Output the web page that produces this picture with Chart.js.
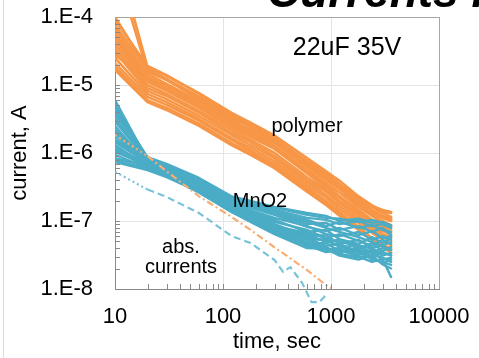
<!DOCTYPE html>
<html lang="en">
<head>
<meta charset="UTF-8" />
<title>Currents in 22uF 35V capacitors</title>
<script src="https://cdn.jsdelivr.net/npm/chart.js"></script>
<style>
  html, body { margin: 0; padding: 0; background: #fff; }
  #wrap { width: 479px; height: 358px; }
</style>
</head>
<body>
<div id="wrap"><canvas id="chart" width="479" height="358"></canvas></div>
<script>
// measurement times, sec
const times = [10, 20, 30, 60, 120, 180, 300, 600, 900, 1200, 1800, 2400, 3000, 3600];

// polymer parts, current in A
const polymer = [
  [1.0e-3, 1.84e-5, 1.36e-5, 7.6e-6, 3.9e-6, 2.8e-6, 1.8e-6, 8.4e-7, 5.4e-7, 3.9e-7, 2.3e-7, 1.7e-7, 1.36e-7, 1.31e-7],
  [6.0e-4, 1.56e-5, 1.19e-5, 6.7e-6, 3.5e-6, 2.5e-6, 1.6e-6, 7.6e-7, 5.1e-7, 3.5e-7, 2.1e-7, 1.6e-7, 1.31e-7, 1.15e-7],
  [1.0e-4, 1.72e-5, 1.23e-5, 6.7e-6, 3.4e-6, 2.4e-6, 1.56e-6, 6.9e-7, 4.4e-7, 3.16e-7, 1.9e-7, 1.4e-7, 1.15e-7, 1.04e-7],
  [9.0e-5, 1.9e-5, 1.4e-5, 7.4e-6, 3.75e-6, 2.7e-6, 1.66e-6, 7.4e-7, 4.6e-7, 3.3e-7, 2.0e-7, 1.45e-7, 1.19e-7, 1.08e-7],
  [7.6e-5, 1.66e-5, 1.19e-5, 6.2e-6, 3.3e-6, 2.4e-6, 1.5e-6, 6.7e-7, 4.3e-7, 3.0e-7, 1.84e-7, 1.36e-7, 1.11e-7, 1.0e-7],
  [6.7e-5, 1.45e-5, 1.04e-5, 5.8e-6, 3.1e-6, 2.1e-6, 1.4e-6, 6.2e-7, 4.0e-7, 2.9e-7, 1.72e-7, 1.27e-7, 1.0e-7, 8.7e-8],
  [5.8e-5, 1.31e-5, 9.7e-6, 5.4e-6, 2.8e-6, 2.0e-6, 1.27e-6, 5.6e-7, 3.6e-7, 2.6e-7, 1.6e-7, 1.19e-7, 9.4e-8, 8.2e-8],
  [5.1e-5, 1.19e-5, 8.7e-6, 4.9e-6, 2.6e-6, 1.84e-6, 1.19e-6, 5.3e-7, 3.4e-7, 2.3e-7, 1.45e-7, 1.04e-7, 8.4e-8, 7.6e-8],
  [4.6e-5, 1.11e-5, 8.2e-6, 4.6e-6, 2.4e-6, 1.72e-6, 1.15e-6, 5.0e-7, 3.1e-7, 2.2e-7, 1.36e-7, 1.0e-7, 7.9e-8, 6.9e-8],
  [4.0e-5, 1.0e-5, 7.4e-6, 4.15e-6, 2.2e-6, 1.56e-6, 1.0e-6, 4.4e-7, 2.9e-7, 1.97e-7, 1.27e-7, 9.0e-8, 7.1e-8, 6.4e-8],
  [3.5e-5, 9.0e-6, 6.9e-6, 3.9e-6, 2.0e-6, 1.45e-6, 9.0e-7, 4.0e-7, 2.7e-7, 1.84e-7, 1.15e-7, 8.2e-8, 6.4e-8, 5.8e-8],
  [3.1e-5, 8.2e-6, 6.2e-6, 3.5e-6, 1.84e-6, 1.31e-6, 8.4e-7, 3.75e-7, 2.4e-7, 1.66e-7, 1.04e-7, 7.4e-8, 5.8e-8, 5.1e-8],
  [2.76e-5, 1.23e-5, 9.0e-6, 5.3e-6, 2.9e-6, 2.2e-6, 1.45e-6, 7.1e-7, 4.75e-7, 3.4e-7, 2.2e-7, 1.66e-7, 1.45e-7, 1.36e-7],
  [2.5e-5, 7.4e-6, 5.6e-6, 3.16e-6, 1.66e-6, 1.19e-6, 7.6e-7, 3.4e-7, 2.2e-7, 1.5e-7, 9.4e-8, 6.7e-8, 5.3e-8, 4.4e-8],
  [2.1e-5, 6.7e-6, 5.1e-6, 3.0e-6, 1.56e-6, 1.08e-6, 6.9e-7, 3.1e-7, 1.97e-7, 1.36e-7, 8.2e-8, 5.6e-8, 4.4e-8, 3.75e-8],
  [1.84e-5, 6.0e-6, 4.6e-6, 2.7e-6, 1.4e-6, 1.0e-6, 6.4e-7, 2.9e-7, 1.84e-7, 1.27e-7, 7.6e-8, 5.3e-8, 4.15e-8, 3.4e-8],
  [1.66e-5, 5.6e-6, 4.3e-6, 2.5e-6, 1.31e-6, 9.4e-7, 6.0e-7, 2.7e-7, 1.72e-7, 1.19e-7, 7.4e-8, 5.4e-8, 4.4e-8, 4.0e-8]
];

// MnO2 parts, current in A
const mno2 = [
  [6.0e-6, 7.9e-7, 6.4e-7, 4.0e-7, 2.26e-7, 1.84e-7, 1.56e-7, 1.23e-7, 1.11e-7, 1.08e-7, 9.7e-8, 1.04e-7, 9.4e-8, 8.7e-8],
  [5.1e-6, 8.4e-7, 6.7e-7, 4.15e-7, 2.2e-7, 1.78e-7, 1.45e-7, 1.11e-7, 1.04e-7, 9.0e-8, 1.0e-7, 8.4e-8, 9.0e-8, 7.9e-8],
  [4.6e-6, 8.7e-7, 6.9e-7, 4.3e-7, 2.3e-7, 1.97e-7, 1.61e-7, 1.31e-7, 1.19e-7, 1.0e-7, 1.08e-7, 9.4e-8, 9.7e-8, 8.4e-8],
  [4.3e-6, 7.6e-7, 6.0e-7, 3.75e-7, 2.1e-7, 1.72e-7, 1.36e-7, 1.04e-7, 8.4e-8, 9.7e-8, 7.9e-8, 8.7e-8, 7.4e-8, 6.9e-8],
  [3.75e-6, 8.2e-7, 6.2e-7, 3.9e-7, 2.0e-7, 1.61e-7, 1.27e-7, 9.0e-8, 9.4e-8, 7.4e-8, 8.4e-8, 6.9e-8, 7.9e-8, 6.2e-8],
  [3.3e-6, 7.4e-7, 5.8e-7, 3.5e-7, 1.97e-7, 1.56e-7, 1.23e-7, 8.2e-8, 7.1e-8, 7.9e-8, 6.2e-8, 7.1e-8, 5.6e-8, 6.0e-8],
  [2.9e-6, 7.9e-7, 6.0e-7, 3.6e-7, 1.91e-7, 1.45e-7, 1.11e-7, 8.4e-8, 6.4e-8, 6.0e-8, 6.9e-8, 5.3e-8, 6.0e-8, 5.3e-8],
  [2.5e-6, 7.1e-7, 5.6e-7, 3.4e-7, 1.84e-7, 1.4e-7, 1.04e-7, 6.9e-8, 7.4e-8, 5.4e-8, 4.6e-8, 5.8e-8, 4.75e-8, 5.6e-8],
  [2.2e-6, 7.6e-7, 5.8e-7, 3.3e-7, 1.78e-7, 1.36e-7, 9.7e-8, 7.4e-8, 5.6e-8, 6.4e-8, 5.1e-8, 4.3e-8, 5.3e-8, 4.6e-8],
  [2.0e-6, 6.9e-7, 5.4e-7, 3.16e-7, 1.72e-7, 1.27e-7, 9.0e-8, 6.0e-8, 6.2e-8, 4.6e-8, 5.3e-8, 4.0e-8, 4.4e-8, 4.9e-8],
  [1.78e-6, 7.4e-7, 5.6e-7, 3.3e-7, 1.66e-7, 1.23e-7, 8.4e-8, 6.4e-8, 4.9e-8, 5.3e-8, 3.9e-8, 4.75e-8, 3.6e-8, 4.15e-8],
  [1.6e-6, 6.7e-7, 5.3e-7, 3.1e-7, 1.61e-7, 1.19e-7, 8.7e-8, 5.3e-8, 5.4e-8, 4.15e-8, 4.3e-8, 3.4e-8, 4.0e-8, 3.75e-8],
  [1.56e-6, 7.9e-7, 6.2e-7, 3.9e-7, 2.1e-7, 1.66e-7, 1.31e-7, 9.7e-8, 7.9e-8, 6.9e-8, 5.8e-8, 4.9e-8, 4.3e-8, 3.75e-8],
  [1.45e-6, 7.1e-7, 5.4e-7, 3.0e-7, 1.56e-7, 1.15e-7, 7.9e-8, 5.6e-8, 4.3e-8, 4.6e-8, 3.5e-8, 3.75e-8, 3.1e-8, 3.4e-8],
  [1.31e-6, 6.4e-7, 5.1e-7, 2.9e-7, 1.5e-7, 1.11e-7, 7.6e-8, 4.6e-8, 4.75e-8, 3.6e-8, 4.0e-8, 3.0e-8, 3.5e-8, 3.1e-8],
  [1.19e-6, 6.9e-7, 5.3e-7, 3.0e-7, 1.45e-7, 1.08e-7, 7.1e-8, 4.9e-8, 3.75e-8, 4.0e-8, 3.16e-8, 3.5e-8, 2.7e-8, 2.9e-8],
  [1.11e-6, 6.2e-7, 4.9e-7, 2.76e-7, 1.45e-7, 1.04e-7, 6.9e-8, 4.3e-8, 4.15e-8, 3.3e-8, 2.9e-8, 3.16e-8, 2.9e-8, 2.5e-8],
  [1.04e-6, 6.7e-7, 5.1e-7, 2.9e-7, 1.4e-7, 1.0e-7, 7.4e-8, 5.3e-8, 4.0e-8, 3.5e-8, 3.75e-8, 2.7e-8, 2.5e-8, 2.26e-8],
  [9.4e-7, 6.0e-7, 4.75e-7, 2.7e-7, 1.36e-7, 1.0e-7, 6.7e-8, 4.4e-8, 3.5e-8, 3.75e-8, 3.0e-8, 2.5e-8, 2.76e-8, 1.5e-8],
  [8.4e-7, 6.4e-7, 4.9e-7, 2.76e-7, 1.4e-7, 1.08e-7, 8.2e-8, 5.8e-8, 5.1e-8, 4.3e-8, 3.4e-8, 2.9e-8, 2.4e-8, 2.7e-8],
  [7.9e-7, 5.8e-7, 4.6e-7, 2.6e-7, 1.36e-7, 9.7e-8, 6.4e-8, 4.0e-8, 3.9e-8, 3.1e-8, 2.7e-8, 3.1e-8, 2.3e-8, 2.0e-8],
  [7.4e-7, 5.6e-7, 4.4e-7, 2.7e-7, 1.45e-7, 1.11e-7, 8.4e-8, 6.7e-8, 5.6e-8, 4.9e-8, 4.4e-8, 3.9e-8, 3.4e-8, 3.16e-8]
];

// absorption currents
const absPolymerTimes = [10, 20, 30, 60, 120, 180, 300, 600, 900, 1000];
const absPolymer = [1.84e-6, 9.0e-7, 5.4e-7, 2.3e-7, 1.15e-7, 7.4e-8, 4.1e-8, 1.9e-8, 1.14e-8, 1.03e-8];
const absMnO2Times = [10, 20, 30, 60, 120, 180, 300, 360, 420, 540, 660, 780, 900];
const absMnO2 = [5.3e-7, 2.9e-7, 2.26e-7, 1.31e-7, 6.0e-8, 4.75e-8, 2.67e-8, 1.78e-8, 2.1e-8, 1.23e-8, 6.4e-9, 6.4e-9, 8.2e-9];

const xTicks = [10, 100, 1000, 10000];
const yTicks = [1e-8, 1e-7, 1e-6, 1e-5, 1e-4];

const ORANGE = '#F79646';
const TEAL = '#4BACC6';
const FONT = "'Liberation Sans', Arial, sans-serif";

function pts(xs, ys) {
  return ys.map((y, i) => ({ x: xs[i], y: y }));
}

const noClipBottom = { left: 0, top: 0, right: false, bottom: false };
const datasets = [];
polymer.forEach(v => datasets.push({
  data: pts(times, v), borderColor: ORANGE, borderWidth: 2.6, order: 3, clip: noClipBottom
}));
mno2.forEach(v => datasets.push({
  data: pts(times, v), borderColor: TEAL, borderWidth: 2.4, order: 2, clip: noClipBottom
}));
// first interval dotted, then dashed
const firstDotted = { borderDash: c => c.p0DataIndex === 0 ? [2, 3] : undefined };
datasets.push({
  data: pts(absPolymerTimes, absPolymer), borderColor: '#F8AD74', borderWidth: 2.2,
  borderDash: [7, 3, 2, 3], borderCapStyle: 'butt', segment: firstDotted, order: 1, clip: noClipBottom
});
datasets.push({
  data: pts(absMnO2Times, absMnO2), borderColor: '#79C3D8', borderWidth: 2.2,
  borderDash: [7, 4], borderCapStyle: 'butt', segment: firstDotted, order: 1, clip: noClipBottom
});

function gridColor(ctx, lo, hi) {
  const v = ctx.tick.value;
  if (v === lo) return 'rgba(0,0,0,0)';
  if (v === hi) return '#a6a6a6';
  return '#e4e4e4';
}

const decor = {
  id: 'decor',
  beforeDraw(chart) {
    const ctx = chart.ctx;
    ctx.save();
    ctx.fillStyle = '#fff';
    ctx.fillRect(0, 0, chart.width, chart.height);
    ctx.strokeStyle = '#dcdcdc';
    ctx.lineWidth = 1;
    ctx.beginPath();
    ctx.moveTo(3.5, 0);
    ctx.lineTo(3.5, chart.height);
    ctx.stroke();
    ctx.restore();
  },
  afterDatasetsDraw(chart) {
    const ctx = chart.ctx;
    ctx.save();
    ctx.fillStyle = '#000';
    ctx.textAlign = 'center';
    ctx.textBaseline = 'alphabetic';
    ctx.font = '25px ' + FONT;
    ctx.fillText('22uF 35V', 347, 55);
    ctx.font = '20px ' + FONT;
    ctx.fillText('polymer', 307, 132);
    ctx.fillText('MnO2', 260, 207);
    ctx.fillText('abs.', 181, 253);
    ctx.fillText('currents', 181, 273);
    ctx.restore();
  },
  afterDraw(chart) {
    const { ctx, chartArea: a, scales: { x, y } } = chart;
    ctx.save();
    // right edge of the plot frame
    ctx.strokeStyle = '#a6a6a6';
    ctx.lineWidth = 1;
    ctx.beginPath();
    ctx.moveTo(Math.round(a.right) + 0.5, a.top);
    ctx.lineTo(Math.round(a.right) + 0.5, a.bottom);
    ctx.stroke();
    // inward tick marks on the left and bottom axes
    ctx.strokeStyle = '#898989';
    ctx.beginPath();
    for (let e = -8; e < -4; e++) {
      for (let k = 1; k < 10; k++) {
        const py = Math.round(y.getPixelForValue(k * Math.pow(10, e))) + 0.5;
        ctx.moveTo(a.left, py);
        ctx.lineTo(a.left + 5, py);
      }
    }
    for (let e = 1; e < 4; e++) {
      for (let k = 1; k < 10; k++) {
        const px = Math.round(x.getPixelForValue(k * Math.pow(10, e))) + 0.5;
        ctx.moveTo(px, a.bottom);
        ctx.lineTo(px, a.bottom - 5);
      }
    }
    ctx.stroke();
    // clipped chart title
    ctx.fillStyle = '#000';
    ctx.textAlign = 'left';
    ctx.textBaseline = 'alphabetic';
    ctx.font = 'italic bold 46px ' + FONT;
    ctx.fillText('Currents in 22uF 35V capacitors', 267, 7);
    ctx.restore();
  }
};

new Chart(document.getElementById('chart'), {
  type: 'line',
  data: { datasets: datasets },
  plugins: [decor],
  options: {
    responsive: false,
    animation: false,
    devicePixelRatio: 1,
    layout: { padding: { left: 0, right: 40, top: 17, bottom: 0 } },
    elements: {
      point: { radius: 0 },
      line: { tension: 0, fill: false, borderCapStyle: 'round', borderJoinStyle: 'round' }
    },
    plugins: { legend: { display: false }, tooltip: { enabled: false } },
    scales: {
      x: {
        type: 'logarithmic',
        min: 10,
        max: 10000,
        afterBuildTicks: s => { s.ticks = xTicks.map(v => ({ value: v })); },
        afterFit: s => {
          s.height = 69;
          s.paddingLeft = 0; s.paddingRight = 0; s.paddingTop = 0; s.paddingBottom = 0;
        },
        grid: { drawTicks: false, lineWidth: 1, color: c => gridColor(c, 10, 10000) },
        border: { color: '#898989', width: 1 },
        ticks: {
          autoSkip: false, maxRotation: 0, padding: 15, color: '#000',
          font: { family: FONT, size: 22 },
          callback: v => String(v)
        },
        title: {
          display: true, text: 'time, sec', color: '#000',
          font: { family: FONT, size: 22 }, padding: { top: 0, bottom: 2.5 }
        }
      },
      y: {
        type: 'logarithmic',
        min: 1e-8,
        max: 1e-4,
        afterBuildTicks: s => { s.ticks = yTicks.map(v => ({ value: v })); },
        afterFit: s => {
          s.width = 115;
          s.paddingLeft = 0; s.paddingRight = 0; s.paddingTop = 0; s.paddingBottom = 0;
        },
        grid: { drawTicks: false, lineWidth: 1, color: c => gridColor(c, 1e-8, 1e-4) },
        border: { color: '#898989', width: 1 },
        ticks: {
          padding: 22, color: '#000',
          font: { family: FONT, size: 22 },
          callback: v => '1.E' + Math.round(Math.log10(v))
        },
        title: {
          display: true, text: 'current, A', color: '#000',
          font: { family: FONT, size: 22 }, padding: { top: 7, bottom: 0 }
        }
      }
    }
  }
});
</script>
</body>
</html>
